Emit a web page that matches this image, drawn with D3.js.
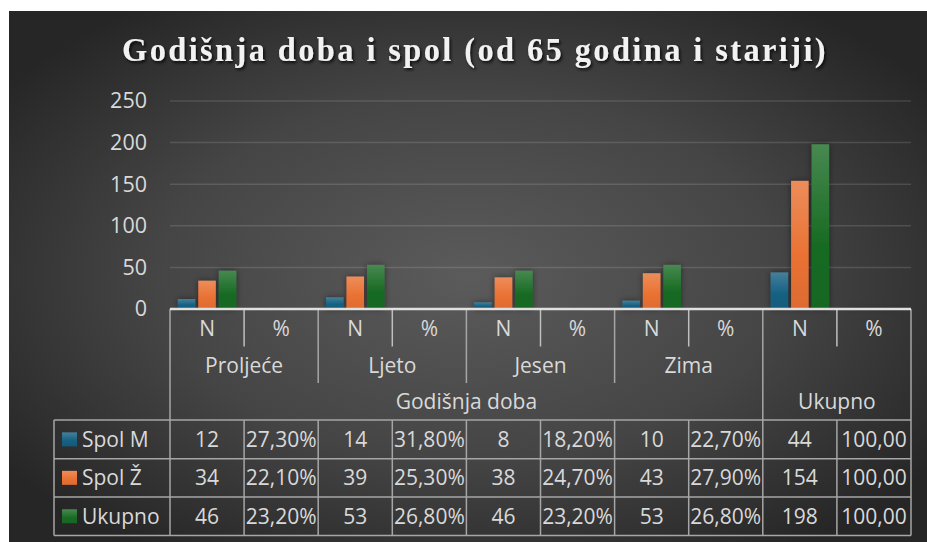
<!DOCTYPE html>
<html><head><meta charset="utf-8">
<script src="https://cdn.jsdelivr.net/npm/d3@7"></script>
<style>html,body{margin:0;padding:0;background:#fff;} svg{display:block}</style>
</head><body>
<svg id="c" width="927" height="542"></svg>
<script>
// ---- data ----
const title = "Godišnja doba i spol (od 65 godina i stariji)";
const seasons = ["Proljeće", "Ljeto", "Jesen", "Zima", "Ukupno"];
const subCols = ["N", "%"];
const groupLabels = ["Godišnja doba", "Ukupno"];
const seriesNames = ["Spol M", "Spol Ž", "Ukupno"];
const spolM  = [12, 0.273, 14, 0.318, 8, 0.182, 10, 0.227, 44, 1];
const spolZ  = [34, 0.221, 39, 0.253, 38, 0.247, 43, 0.279, 154, 1];
const ukupno = [46, 0.232, 53, 0.268, 46, 0.232, 53, 0.268, 198, 1];
const yTicks = [0, 50, 100, 150, 200, 250];
const colors = ["#156082", "#E97132", "#196B24"];

const seriesValues = [spolM, spolZ, ukupno];
const colKeys = [];
seasons.forEach(s => subCols.forEach(c => colKeys.push(s + "|" + c)));

const svg = d3.select("#c");
const W = 927, H = 542;
const L = 170, R = 911, Y0 = 309, YT = 101;
const FONT = "'Open Sans', 'Noto Sans', sans-serif";
const TXT = "#d9d9d9";

const defs = svg.append("defs");
const bg = defs.append("radialGradient").attr("id", "bg")
  .attr("cx", "0.5").attr("cy", "0.5").attr("r", "0.62");
bg.append("stop").attr("offset", "0").attr("stop-color", "#5b5b5b");
bg.append("stop").attr("offset", "0.55").attr("stop-color", "#454545");
bg.append("stop").attr("offset", "1").attr("stop-color", "#262626");

colors.forEach((c, i) => {
  const g = defs.append("linearGradient").attr("id", "bar" + i)
    .attr("x1", 0).attr("y1", 0).attr("x2", 0).attr("y2", 1);
  g.append("stop").attr("offset", "0").attr("stop-color", d3.interpolateRgb(c, "#ffffff")(0.2));
  g.append("stop").attr("offset", "0.6").attr("stop-color", c);
  g.append("stop").attr("offset", "1").attr("stop-color", d3.interpolateRgb(c, "#000000")(0.05));
});
const sh = defs.append("filter").attr("id", "sh").attr("x", "-50%").attr("y", "-50%").attr("width", "200%").attr("height", "200%");
sh.append("feDropShadow").attr("dx", 0).attr("dy", 0).attr("stdDeviation", 3).attr("flood-color", "#000").attr("flood-opacity", 0.45);
const tsh = defs.append("filter").attr("id", "tsh").attr("x", "-10%").attr("y", "-30%").attr("width", "120%").attr("height", "160%");
tsh.append("feDropShadow").attr("dx", 1.5).attr("dy", 2).attr("stdDeviation", 1.5).attr("flood-color", "#000").attr("flood-opacity", 0.8);

// background
svg.append("rect").attr("x", 9).attr("y", 11).attr("width", W - 9).attr("height", H - 11).attr("fill", "url(#bg)");

// title
svg.append("text").attr("x", 475).attr("y", 61).attr("text-anchor", "middle")
  .attr("font-family", "'Liberation Serif', 'Times New Roman', serif").attr("font-weight", "bold")
  .attr("font-size", 34).attr("letter-spacing", 2.5).attr("fill", "#f2f2f2")
  .attr("textLength", 706).attr("lengthAdjust", "spacingAndGlyphs")
  .attr("filter", "url(#tsh)").text(title);

// scales
const y = d3.scaleLinear().domain([0, 250]).range([Y0, YT]);
const x = d3.scaleBand().domain(colKeys).range([L, R]).padding(0);
const xs = d3.scaleBand().domain(seriesNames).range([0, x.bandwidth()]).paddingInner(0.146).paddingOuter(0.38);

// gridlines
svg.append("g").selectAll("line").data(yTicks.filter(t => t > 0)).join("line")
  .attr("x1", L).attr("x2", R).attr("y1", d => y(d)).attr("y2", d => y(d))
  .attr("stroke", "#ffffff").attr("stroke-opacity", 0.13).attr("stroke-width", 1.5);

// y axis
const ya = svg.append("g").attr("transform", `translate(${L},0)`)
  .call(d3.axisLeft(y).tickValues(yTicks).tickSize(0).tickPadding(23));
ya.select(".domain").remove();
ya.selectAll("text").attr("font-family", FONT).attr("font-size", 21.5).attr("fill", TXT);

// bars
const bars = svg.append("g").attr("filter", "url(#sh)");
seriesValues.forEach((vals, si) => {
  bars.append("g").selectAll("rect").data(vals).join("rect")
    .attr("x", (d, i) => x(colKeys[i]) + xs(seriesNames[si]))
    .attr("width", xs.bandwidth())
    .attr("y", d => y(d))
    .attr("height", d => y(0) - y(d))
    .attr("fill", `url(#bar${si})`);
});

// ---- table ----
const LEG = 54;
const rowH = [309, 346.5, 383, 420];
const dataRows = [420, 458.7, 497, 535.5];
const lineC = "#a6a6a6";
const tg = svg.append("g");
function line(x1, y1, x2, y2, c, w) {
  tg.append("line").attr("x1", x1).attr("y1", y1).attr("x2", x2).attr("y2", y2)
    .attr("stroke", c || lineC).attr("stroke-width", w || 1.5);
}
colKeys.forEach((k, i) => {
  const xx = x(k);
  if (i === 0) return;
  let bottom;
  if (i % 2 === 1) bottom = rowH[1];
  else if (k.startsWith("Ukupno")) bottom = rowH[3];
  else bottom = rowH[2];
  line(xx, Y0, xx, bottom, i % 2 === 1 ? "#bfbfbf" : lineC);
});
line(L, Y0, L, dataRows[3]);
line(R, Y0, R, dataRows[3]);
dataRows.forEach(yy => line(LEG, yy, R, yy));
line(LEG, dataRows[0], LEG, dataRows[3]);
colKeys.forEach((k, i) => { if (i > 0) line(x(k), dataRows[0], x(k), dataRows[3]); });
line(L, Y0, R, Y0, "#e0e0e0", 2.5);

function txt(xx, yy, s, anchor) {
  tg.append("text").attr("x", xx).attr("y", yy).attr("dy", "0.36em")
    .attr("text-anchor", anchor || "middle").attr("font-family", FONT)
    .attr("font-size", 21).attr("fill", TXT).text(s);
}
colKeys.forEach((k, i) => txt(x(k) + x.bandwidth() / 2, 328, subCols[i % 2]));
seasons.forEach(s => txt(x(s + "|N") + x.bandwidth(), 365, s === "Ukupno" ? "" : s));
txt((L + x("Ukupno|N")) / 2, 401, groupLabels[0]);
txt(x("Ukupno|N") + x.bandwidth(), 401, groupLabels[1]);

const fmtPct = v => (v * 100).toFixed(2).replace(".", ",") + "%";
seriesValues.forEach((vals, si) => {
  const cy = (dataRows[si] + dataRows[si + 1]) / 2;
  tg.append("rect").attr("x", 62).attr("y", cy - 7).attr("width", 15).attr("height", 14)
    .attr("fill", `url(#bar${si})`);
  txt(82, cy, seriesNames[si], "start");
  vals.forEach((v, i) => {
    let s;
    if (i % 2 === 0) s = String(v);
    else if (colKeys[i].startsWith("Ukupno")) s = (v * 100).toFixed(2).replace(".", ",");
    else s = fmtPct(v);
    txt(x(colKeys[i]) + x.bandwidth() / 2, cy, s);
  });
});
</script>
</body></html>
